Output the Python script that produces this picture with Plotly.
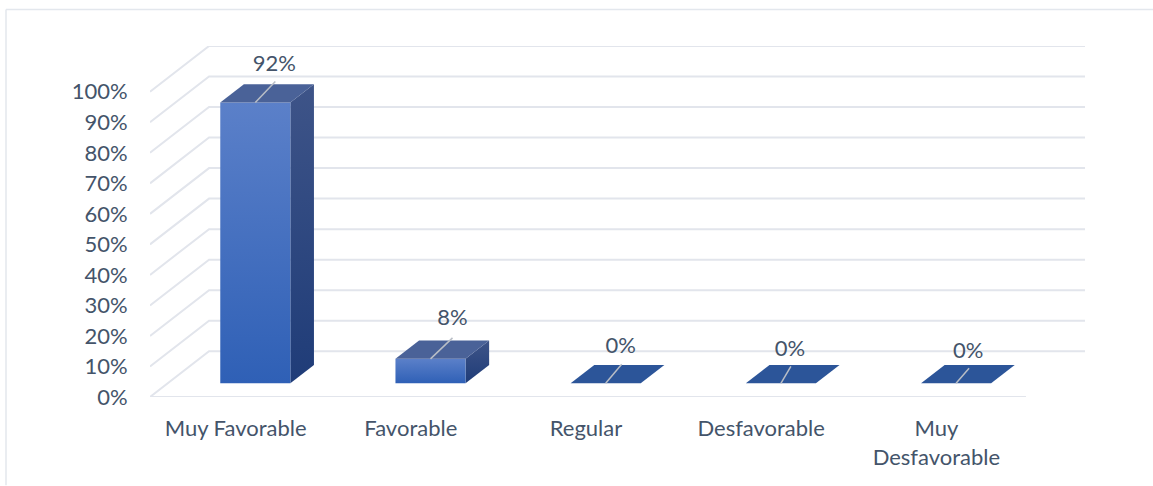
import plotly.graph_objects as go

categories = ["Muy Favorable", "Favorable", "Regular", "Desfavorable", "Muy<br>Desfavorable"]
values = [92, 8, 0, 0, 0]
value_labels = ["92%", "8%", "0%", "0%", "0%"]
y_ticks = list(range(0, 101, 10))
y_tick_labels = [f"{v}%" for v in y_ticks]

# Plot geometry
W, H = 1153, 486
ML, MR, MT, MB = 150, 68, 45.5, 88.5
DEPTH_X = 0.337   # category units for the whole floor depth
DEPTH_Y = 15.0    # percent units for the whole floor depth
X_RANGE = [-0.5, 4.5 + DEPTH_X]
Y_RANGE = [0, 100 + DEPTH_Y]
PX_X = (W - ML - MR) / (X_RANGE[1] - X_RANGE[0])
PX_Y = (H - MT - MB) / (Y_RANGE[1] - Y_RANGE[0])
HALF_W = 0.2
D_FRONT, D_BACK = 0.3, 0.7

GRID = "#e2e5ec"
TEXT = "#44546a"
FONT = "Lato"
FONT_SIZE = 22

# Pixel offsets of the leader line tip and label relative to the bar's top-front centre
leader_tip = [(20, 21), (22, 21), (16, 19), (10, 17), (13, 15)]
label_off = [(19, 37), (22, 39), (15, 36), (9, 33), (12, 31)]


def pr(x, y, d):
    return x + d * DEPTH_X, y + d * DEPTH_Y


def poly(pts, **kw):
    xs = [p[0] for p in pts] + [pts[0][0]]
    ys = [p[1] for p in pts] + [pts[0][1]]
    return go.Scatter(x=xs, y=ys, mode="lines", fill="toself", line=dict(width=0),
                      hoverinfo="skip", showlegend=False, cliponaxis=False, **kw)


fig = go.Figure()

# Walls: back wall line + diagonal on the side wall, for each tick
for v in y_ticks:
    x0, y0 = pr(X_RANGE[0], v, 0)
    x1, y1 = pr(X_RANGE[0], v, 1)
    x2, y2 = pr(4.5, v, 1)
    fig.add_trace(go.Scatter(x=[x0, x1, x2], y=[y0, y1, y2], mode="lines",
                             line=dict(color=GRID, width=2), hoverinfo="skip",
                             showlegend=False, cliponaxis=False))
# Front floor edge
fig.add_trace(go.Scatter(x=[-0.5, 4.5], y=[0, 0], mode="lines",
                         line=dict(color=GRID, width=2.2), hoverinfo="skip",
                         showlegend=False, cliponaxis=False))

for i, v in enumerate(values):
    l, r = i - HALF_W, i + HALF_W
    fl = pr(l, v, D_FRONT)
    fr = pr(r, v, D_FRONT)
    bl = pr(l, v, D_BACK)
    br = pr(r, v, D_BACK)
    fl0 = pr(l, 0, D_FRONT)
    fr0 = pr(r, 0, D_FRONT)
    br0 = pr(r, 0, D_BACK)
    if v > 0:
        fig.add_trace(poly([fr0, br0, br, fr],
                           fillgradient=dict(type="vertical",
                                             colorscale=[[0, "#1f3c78"], [1, "#3e5488"]])))
        fig.add_trace(poly([fl0, fr0, fr, fl],
                           fillgradient=dict(type="vertical",
                                             colorscale=[[0, "#2f60b6"], [1, "#5b80c9"]])))
        top_color = "#4a6298"
    else:
        top_color = "#2c5599"
    fig.add_trace(poly([fl, fr, br, bl], fillcolor=top_color))

    # Leader line and value label
    sx, sy = pr(i, v, D_FRONT)
    tx = sx + leader_tip[i][0] / PX_X
    ty = sy + leader_tip[i][1] / PX_Y
    fig.add_trace(go.Scatter(x=[sx, tx], y=[sy, ty], mode="lines",
                             line=dict(color="#b9bec6", width=1.5), hoverinfo="skip",
                             showlegend=False, cliponaxis=False))
    fig.add_trace(go.Scatter(x=[sx + label_off[i][0] / PX_X],
                             y=[sy + label_off[i][1] / PX_Y],
                             mode="text", text=[value_labels[i]], textposition="middle center",
                             textfont=dict(family=FONT, size=FONT_SIZE, color=TEXT),
                             hoverinfo="skip", showlegend=False, cliponaxis=False))

fig.update_layout(
    width=W, height=H, autosize=False,
    margin=dict(l=ML, r=MR, t=MT, b=MB, pad=0),
    paper_bgcolor="white", plot_bgcolor="white",
    font=dict(family=FONT, size=FONT_SIZE, color=TEXT),
    showlegend=False,
    xaxis=dict(range=X_RANGE, tickmode="array", tickvals=list(range(len(categories))),
               ticktext=categories, showgrid=False, zeroline=False, showline=False,
               ticks="outside", ticklen=12, tickcolor="rgba(0,0,0,0)", tickangle=0,
               ticklabelshift=-2, automargin=False, fixedrange=True),
    yaxis=dict(range=Y_RANGE, tickmode="array", tickvals=y_ticks, ticktext=y_tick_labels,
               showgrid=False, zeroline=False, showline=False,
               ticks="outside", ticklen=17, tickcolor="rgba(0,0,0,0)",
               automargin=False, fixedrange=True),
    shapes=[
        dict(type="line", xref="paper", yref="paper",
             x0=(6 - ML) / (W - ML - MR), x1=(W - ML) / (W - ML - MR),
             y0=(H - MB - 9) / (H - MT - MB), y1=(H - MB - 9) / (H - MT - MB),
             line=dict(color="#e3e7ed", width=1.5)),
        dict(type="line", xref="paper", yref="paper",
             x0=(6 - ML) / (W - ML - MR), x1=(6 - ML) / (W - ML - MR),
             y0=(H - MB - 9) / (H - MT - MB), y1=-MB / (H - MT - MB),
             line=dict(color="#e3e7ed", width=1.5)),
    ],
)

fig.write_html("out.html", config=dict(displayModeBar=False),
               post_script="document.body.style.margin='0';document.body.style.overflow='hidden';")
